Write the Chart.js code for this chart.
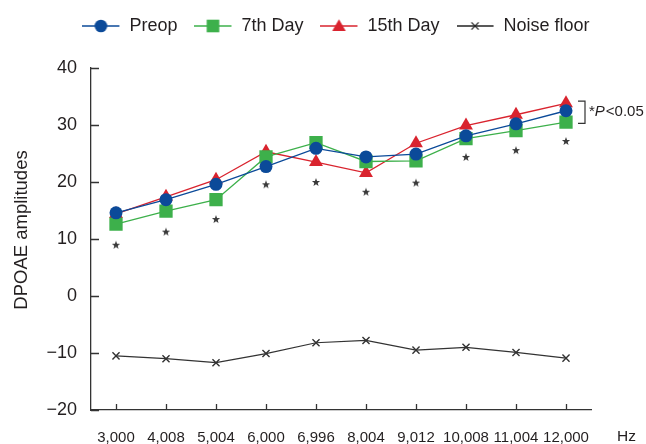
<!DOCTYPE html>
<html>
<head>
<meta charset="utf-8">
<script src="https://cdn.jsdelivr.net/npm/chart.js@4/dist/chart.umd.min.js"></script>
<style>
  html, body { margin: 0; padding: 0; background: #fff; }
  #wrap { width: 646px; height: 444px; }
</style>
</head>
<body>
<div id="wrap"><canvas id="dpoaeChart"></canvas></div>
<script>
const categories = ['3,000', '4,008', '5,004', '6,000', '6,996', '8,004', '9,012', '10,008', '11,004', '12,000'];
const preop = [14.6, 16.9, 19.6, 22.7, 25.9, 24.4, 24.9, 28.1, 30.2, 32.5];
const day7 = [12.6, 14.9, 16.9, 24.4, 26.9, 23.6, 23.7, 27.6, 29.0, 30.5];
const day15 = [14.4, 17.4, 20.4, 25.3, 23.5, 21.6, 26.8, 29.9, 31.8, 33.8];
const noiseFloor = [-10.5, -11.0, -11.7, -10.1, -8.2, -7.8, -9.5, -9.0, -9.9, -10.9];
const stars = [9.0, 11.3, 13.5, 19.6, 20.0, 18.3, 19.9, 24.4, 25.6, 27.2];
const yTicks = [-20, -10, 0, 10, 20, 30, 40];

const BLUE = '#0b4a99';
const GREEN = '#3db04b';
const RED = '#d9232e';
const INK = '#231f20';
const FONT = '"Liberation Sans", Arial, sans-serif';

function drawMarker(ctx, style, x, y, r, color) {
    ctx.fillStyle = color;
    ctx.strokeStyle = color;
    ctx.beginPath();
    if (style === 'circle') {
        ctx.arc(x, y, r, 0, Math.PI * 2);
        ctx.fill();
    } else if (style === 'rect') {
        ctx.fillRect(x - r, y - r, 2 * r, 2 * r);
    } else if (style === 'triangle') {
        ctx.moveTo(x, y - r);
        ctx.lineTo(x + r * 0.866, y + r / 2);
        ctx.lineTo(x - r * 0.866, y + r / 2);
        ctx.closePath();
        ctx.fill();
    } else if (style === 'cross') {
        ctx.lineWidth = 1.2;
        ctx.moveTo(x - r, y - r); ctx.lineTo(x + r, y + r);
        ctx.moveTo(x + r, y - r); ctx.lineTo(x - r, y + r);
        ctx.stroke();
    }
}

function legendIcon(color, style, r) {
    let c = document.createElement('canvas');
    c.width = 38;
    c.height = 18;
    let ctx = c.getContext('2d');
    ctx.strokeStyle = color;
    ctx.lineWidth = 1.3;
    ctx.beginPath();
    ctx.moveTo(0, 9);
    ctx.lineTo(37, 9);
    ctx.stroke();
    drawMarker(ctx, style, 18.5, style === 'triangle' ? 10 : 9, r, color);
    return c;
}

function starIcon() {
    let c = document.createElement('canvas');
    c.width = 10;
    c.height = 10;
    let ctx = c.getContext('2d');
    ctx.fillStyle = '#3a3a3a';
    ctx.beginPath();
    for (let i = 0; i < 10; i++) {
        let rad = i % 2 === 0 ? 4.3 : 1.8;
        let a = -Math.PI / 2 + i * Math.PI / 5;
        let px = 5 + rad * Math.cos(a);
        let py = 5.4 + rad * Math.sin(a);
        if (i === 0) ctx.moveTo(px, py); else ctx.lineTo(px, py);
    }
    ctx.closePath();
    ctx.fill();
    return c;
}

const icons = [
    legendIcon(BLUE, 'circle', 6.3),
    legendIcon(GREEN, 'rect', 6.3),
    legendIcon(RED, 'triangle', 7.8),
    legendIcon('#222', 'cross', 3.6)
];

const extras = {
    id: 'extras',
    afterLayout(chart) {
        // place the legend like the original figure
        chart.legend.left += 35.5;
        chart.legend.right += 35.5;
        chart.legend.top -= 23;
        chart.legend.bottom -= 23;
    },
    afterDraw(chart) {
        const ctx = chart.ctx;
        const x = chart.scales.x;
        const y = chart.scales.y;
        const area = chart.chartArea;
        ctx.save();
        ctx.strokeStyle = '#333';
        ctx.lineWidth = 1.3;
        ctx.beginPath();
        yTicks.forEach(v => {
            let py = Math.round(y.getPixelForValue(v)) + 0.5;
            ctx.moveTo(area.left, py);
            ctx.lineTo(area.left + 8, py);
        });
        categories.forEach((c, i) => {
            let px = Math.round(x.getPixelForValue(i)) + 0.5;
            ctx.moveTo(px, area.bottom);
            ctx.lineTo(px, area.bottom - 6);
        });
        ctx.stroke();

        // y axis title
        ctx.fillStyle = INK;
        ctx.save();
        ctx.translate(22, 230);
        ctx.rotate(-Math.PI / 2);
        ctx.font = '18.5px ' + FONT;
        ctx.textAlign = 'center';
        ctx.textBaseline = 'middle';
        ctx.fillText('DPOAE amplitudes', 0, 0);
        ctx.restore();

        // Hz unit
        ctx.font = '15.5px ' + FONT;
        ctx.textBaseline = 'middle';
        ctx.textAlign = 'left';
        ctx.fillText('Hz', area.right + 26, 437);

        // significance bracket
        let bx = x.getPixelForValue(categories.length - 1) + 12;
        let top = y.getPixelForValue(34.2);
        let bot = y.getPixelForValue(30.3);
        ctx.lineWidth = 1.2;
        ctx.strokeStyle = '#333';
        ctx.beginPath();
        ctx.moveTo(bx, top); ctx.lineTo(bx + 7, top);
        ctx.lineTo(bx + 7, bot); ctx.lineTo(bx, bot);
        ctx.stroke();
        let tx = bx + 11;
        let ty = (top + bot) / 2;
        ctx.font = '15px ' + FONT;
        ctx.fillText('*', tx, ty);
        tx += ctx.measureText('*').width;
        ctx.font = 'italic 15px ' + FONT;
        ctx.fillText('P', tx, ty);
        tx += ctx.measureText('P').width + 1;
        ctx.font = '15px ' + FONT;
        ctx.fillText('<0.05', tx, ty);
        ctx.restore();
    }
};

const ctx = document.querySelector('#dpoaeChart');
const data = {
    labels: categories,
    datasets: [
        {
            label: 'Preop',
            data: preop,
            borderColor: BLUE,
            backgroundColor: BLUE,
            borderWidth: 1.3,
            pointStyle: 'circle',
            pointRadius: 6.5,
            pointBorderWidth: 0
        },
        {
            label: '7th Day',
            data: day7,
            borderColor: GREEN,
            backgroundColor: GREEN,
            borderWidth: 1.3,
            pointStyle: 'rect',
            pointRadius: 9.4,
            pointBorderWidth: 0
        },
        {
            label: '15th Day',
            data: day15,
            borderColor: RED,
            backgroundColor: RED,
            borderWidth: 1.3,
            pointStyle: 'triangle',
            pointRadius: 8,
            pointBorderWidth: 0
        },
        {
            label: 'Noise floor',
            data: noiseFloor,
            borderColor: '#333',
            backgroundColor: '#333',
            borderWidth: 1.2,
            pointStyle: 'crossRot',
            pointRadius: 5,
            pointBorderWidth: 1.4
        },
        {
            label: 'sig',
            data: stars,
            showLine: false,
            pointStyle: starIcon(),
            pointRadius: 5
        }
    ]
};

const config = {
    type: 'line',
    data: data,
    plugins: [extras],
    options: {
        responsive: true,
        maintainAspectRatio: false,
        animation: false,
        layout: { padding: { left: 10, right: 55, top: 23, bottom: 0 } },
        plugins: {
            tooltip: { enabled: false },
            legend: {
                position: 'top',
                labels: {
                    usePointStyle: true,
                    pointStyleWidth: 38,
                    padding: 17,
                    color: INK,
                    font: { family: FONT, size: 18 },
                    filter: item => item.datasetIndex < 4,
                    generateLabels: chart => chart.data.datasets.slice(0, 4).map((ds, i) => ({
                        text: ds.label,
                        pointStyle: icons[i],
                        fillStyle: ds.borderColor,
                        strokeStyle: ds.borderColor,
                        lineWidth: 0,
                        fontColor: INK,
                        hidden: false,
                        datasetIndex: i
                    }))
                }
            }
        },
        scales: {
            x: {
                offset: true,
                grid: { display: false, drawTicks: false },
                border: { display: true, color: '#333', width: 1.3 },
                ticks: {
                    color: INK,
                    padding: 19,
                    maxRotation: 0,
                    autoSkip: false,
                    font: { family: FONT, size: 15 }
                },
                afterFit: scale => { scale.height = 34; }
            },
            y: {
                min: -20,
                max: 40,
                afterBuildTicks: scale => { scale.ticks = yTicks.map(v => ({ value: v })); },
                grid: { display: false, drawTicks: false },
                border: { display: true, color: '#333', width: 1.3 },
                ticks: {
                    color: INK,
                    padding: 14,
                    font: { family: FONT, size: 18 },
                    callback: v => String(v).replace('-', '\u2212')
                },
                afterFit: scale => { scale.width = 81; }
            }
        }
    }
};
new Chart(ctx, config);
</script>
</body>
</html>
